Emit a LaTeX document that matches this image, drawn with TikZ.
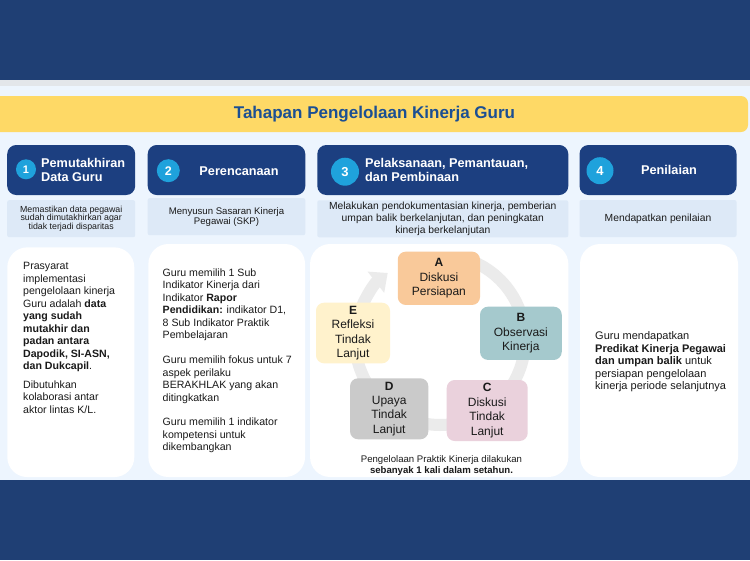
\documentclass[tikz,border=0pt]{standalone}
\usepackage{fontspec}
\setmainfont{Liberation Sans}
\usetikzlibrary{arrows.meta}
\definecolor{band}{HTML}{1F3F74}
\definecolor{strip}{HTML}{E3E6EA}
\definecolor{pagebg}{HTML}{EDF5FE}
\definecolor{banner}{HTML}{FED966}
\definecolor{titleblue}{HTML}{1B4F93}
\definecolor{hdrblue}{HTML}{1C3F80}
\definecolor{numblue}{HTML}{1FA2DC}
\definecolor{descbg}{HTML}{DDE9F7}
\definecolor{ringgray}{HTML}{EBEBEB}
\definecolor{cA}{HTML}{F9C99A}
\definecolor{cB}{HTML}{A5C9CD}
\definecolor{cC}{HTML}{EAD1DC}
\definecolor{cD}{HTML}{CACACA}
\definecolor{cE}{HTML}{FFF2CC}
\definecolor{txt}{HTML}{1A1A1A}
\begin{document}
\begin{tikzpicture}[x=1pt,y=-1pt,
  hdr/.style={fill=hdrblue, rounded corners=9pt, minimum height=50pt, inner sep=0pt},
  num/.style={circle, fill=numblue, text=white, font=\bfseries\fontsize{11}{12}\selectfont, inner sep=0pt},
  hdrtext/.style={text=white, font=\bfseries\fontsize{12.7}{13.5}\selectfont, inner sep=0pt, align=left},
  desc/.style={fill=descbg, rounded corners=2pt, minimum height=37pt, inner sep=0pt, align=center, text=txt},
  card/.style={fill=white, rounded corners=20pt, inner sep=0pt},
  bodytext/.style={anchor=north west, inner sep=0pt, align=left, text=txt, font=\fontsize{10.6}{12.5}\selectfont},
  stage/.style={rounded corners=8pt, inner sep=0pt, align=center, text=txt, font=\fontsize{12}{14.4}\selectfont},
]
\useasboundingbox (0,0) rectangle (750,560);
% background bands
\fill[band] (0,0) rectangle (750,79.5);
\fill[strip] (0,79.5) rectangle (750,86);
\fill[pagebg] (0,86) rectangle (750,480);
\fill[band] (0,480) rectangle (750,560);

% title banner
\node[fill=banner, rounded corners=7pt, minimum width=758pt, minimum height=36pt, inner sep=0pt] (banner) at (369,114) {};
\node[text=titleblue, font=\bfseries\fontsize{17}{19}\selectfont, inner sep=0pt] (title) at (374.5,114) {Tahapan Pengelolaan Kinerja Guru};

% headers
\node[hdr, minimum width=128pt] (h1) at (71.2,170) {};
\node[hdr, minimum width=157.6pt] (h2) at (226.5,170) {};
\node[hdr, minimum width=251pt] (h3) at (442.8,170) {};
\node[hdr, minimum width=157pt] (h4) at (658,170) {};

\node[num, minimum size=20pt] (n1) at (26,169.3) {1};
\node[num, minimum size=23pt, font=\bfseries\fontsize{12.5}{13}\selectfont] (n2) at (168.3,170.7) {2};
\node[num, minimum size=28pt, font=\bfseries\fontsize{13}{14}\selectfont] (n3) at (345,171.7) {3};
\node[num, minimum size=27pt, font=\bfseries\fontsize{13}{14}\selectfont] (n4) at (600,170.7) {4};

\node[hdrtext, anchor=west] (ht1) at (41,170) {Pemutakhiran\\Data Guru};
\node[hdrtext] (ht2) at (239,170.7) {Perencanaan};
\node[hdrtext, anchor=west, font=\bfseries\fontsize{12.7}{14}\selectfont] (ht3) at (365,170.3) {Pelaksanaan, Pemantauan,\\dan Pembinaan};
\node[hdrtext] (ht4) at (669,170) {Penilaian};

% descriptions
\node[desc, minimum width=128pt, font=\fontsize{8.8}{8.6}\selectfont] (d1) at (71.2,218.7)
  {Memastikan data pegawai\\sudah dimutakhirkan agar\\tidak terjadi disparitas};
\node[desc, minimum width=157.6pt, font=\fontsize{9.6}{10.2}\selectfont] (d2) at (226.5,216.7)
  {Menyusun Sasaran Kinerja\\Pegawai (SKP)};
\node[desc, minimum width=251pt, font=\fontsize{10.3}{12.4}\selectfont] (d3) at (442.8,218.8)
  {Melakukan pendokumentasian kinerja, pemberian\\umpan balik berkelanjutan, dan peningkatan\\kinerja berkelanjutan};
\node[desc, minimum width=157pt, font=\fontsize{10.3}{11}\selectfont] (d4) at (658,218.5)
  {Mendapatkan penilaian};

% cards
\node[card, minimum width=127pt, minimum height=229.7pt] (b1) at (70.8,362.2) {};
\node[card, minimum width=156.7pt, minimum height=233pt] (b2) at (226.7,360.5) {};
\node[card, minimum width=258.3pt, minimum height=233pt] (b3) at (439.2,360.5) {};
\node[card, minimum width=158pt, minimum height=233pt] (b4) at (659,360.5) {};

% card 1 text
\node[bodytext] (t1) at (23,262.5) {Prasyarat\\implementasi\\pengelolaan kinerja\\Guru adalah \textbf{data}\\\textbf{yang sudah}\\\textbf{mutakhir dan}\\\textbf{padan antara}\\\textbf{Dapodik, SI-ASN,}\\\textbf{dan Dukcapil}.\\[6pt]Dibutuhkan\\kolaborasi antar\\aktor lintas K/L.};

% card 2 text
\node[bodytext] (t2) at (162.5,268.5) {Guru memilih 1 Sub\\Indikator Kinerja dari\\Indikator \textbf{Rapor}\\\textbf{Pendidikan:} indikator D1,\\8 Sub Indikator Praktik\\Pembelajaran\\[12.2pt]Guru memilih fokus untuk 7\\aspek perilaku\\BERAKHLAK yang akan\\ditingkatkan\\[12.2pt]Guru memilih 1 indikator\\kompetensi untuk\\dikembangkan};

% card 3 cycle
\coordinate (ringstart) at (469.1,260.1);
\draw[ringgray, line width=12pt, -{Triangle[width=26pt,length=15pt]}]
  (ringstart) arc[start angle=-70, end angle=232, radius=85];
\node[stage, fill=cA, minimum width=82.3pt, minimum height=53.3pt] (sA) at (438.9,278.3) {\textbf{A}\\Diskusi\\Persiapan};
\node[stage, fill=cB, minimum width=81.7pt, minimum height=53.3pt] (sB) at (520.9,333.3) {\textbf{B}\\Observasi\\Kinerja};
\node[stage, fill=cC, minimum width=81pt, minimum height=61pt] (sC) at (487.2,410.5) {\textbf{C}\\Diskusi\\Tindak\\Lanjut};
\node[stage, fill=cD, minimum width=78.3pt, minimum height=61pt] (sD) at (389.2,408.8) {\textbf{D}\\Upaya\\Tindak\\Lanjut};
\node[stage, fill=cE, minimum width=74pt, minimum height=60.6pt] (sE) at (353,333) {\textbf{E}\\Refleksi\\Tindak\\Lanjut};
\node[inner sep=0pt, align=center, text=txt, font=\fontsize{9.6}{10.4}\selectfont] (cap) at (441.5,465.5)
  {Pengelolaan Praktik Kinerja dilakukan\\\textbf{sebanyak 1 kali dalam setahun.}};

% card 4 text
\node[bodytext, font=\fontsize{11}{12.5}\selectfont] (t4) at (595,331.5) {Guru mendapatkan\\\textbf{Predikat Kinerja Pegawai}\\\textbf{dan umpan balik} untuk\\persiapan pengelolaan\\kinerja periode selanjutnya};
\end{tikzpicture}
\end{document}
